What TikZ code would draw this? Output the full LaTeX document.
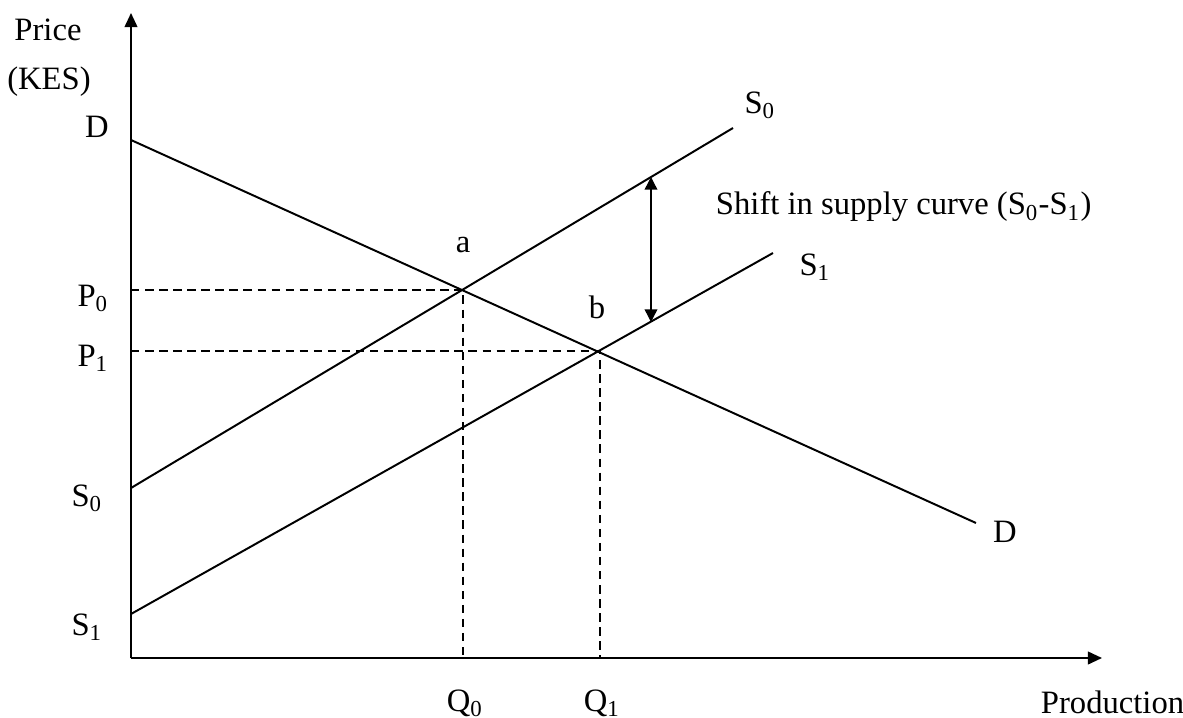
\documentclass[tikz,border=0pt]{standalone}
\usepackage{fontspec}
\setmainfont{Liberation Serif}
\usetikzlibrary{arrows.meta}

\begin{document}
\begin{tikzpicture}[x=0.0125cm, y=-0.0125cm, line width=0.7pt,
    >={Triangle[length=5pt,width=4.5pt]},
    lbl/.style={font=\fontsize{11.6}{13}\selectfont, inner sep=0pt},
    guide/.style={line width=0.6pt, dash pattern=on 3pt off 2pt}]
  \useasboundingbox (0,0) rectangle (1183,718);
  % Axes
  \coordinate (O) at (131,658);
  \coordinate (ytop) at (131,13);
  \coordinate (xend) at (1102,658);
  \draw[->] (O) -- (ytop);
  \draw[->] (O) -- (xend);
  % Demand and supply lines
  \coordinate (Dl) at (131,140);   \coordinate (Dr) at (976,523);
  \coordinate (S0l) at (131,488);  \coordinate (S0r) at (733,128);
  \coordinate (S1l) at (131,614);  \coordinate (S1r) at (773,253);
  \draw (Dl) -- (Dr);
  \draw (S0l) -- (S0r);
  \draw (S1l) -- (S1r);
  % Equilibria
  \coordinate (a) at (463,290);
  \coordinate (b) at (600,351);
  \draw[guide] (a -| O) -- (a) -- (a |- O);
  \draw[guide] (b -| O) -- (b) -- (b |- O);
  % Shift arrow
  \coordinate (up) at (651,177);
  \coordinate (dn) at (651,322);
  \draw[<->, line width=0.5pt, >={Triangle[length=4.5pt,width=4.5pt]}] (up) -- (dn);
  % Labels
  \node[lbl] (price) at (48,30) {Price};
  \node[lbl] (kes) at (49,82) {(KES)};
  \node[lbl] (Dtop) at (97,127) {D};
  \node[lbl] (Dbot) at (1005,532) {D};
  \node[lbl] (S0top) at (760,105) {S\textsubscript{0}};
  \node[lbl] (S1top) at (815,267) {S\textsubscript{1}};
  \node[lbl] (S0ax) at (87,498) {S\textsubscript{0}};
  \node[lbl] (S1ax) at (87,627) {S\textsubscript{1}};
  \node[lbl] (P0) at (93,298) {P\textsubscript{0}};
  \node[lbl] (P1) at (93,358) {P\textsubscript{1}};
  \node[lbl] (alab) at (463,245) {a};
  \node[lbl] (blab) at (597,307) {b};
  \node[lbl] (Q0) at (465,703) {Q\textsubscript{0}};
  \node[lbl] (Q1) at (602,703) {Q\textsubscript{1}};
  \node[lbl, anchor=west] (prod) at (1040,702) {Production};
  \node[lbl, anchor=west] (shift) at (715,207) {Shift in supply curve (S\textsubscript{0}-S\textsubscript{1})};
\end{tikzpicture}
\end{document}
